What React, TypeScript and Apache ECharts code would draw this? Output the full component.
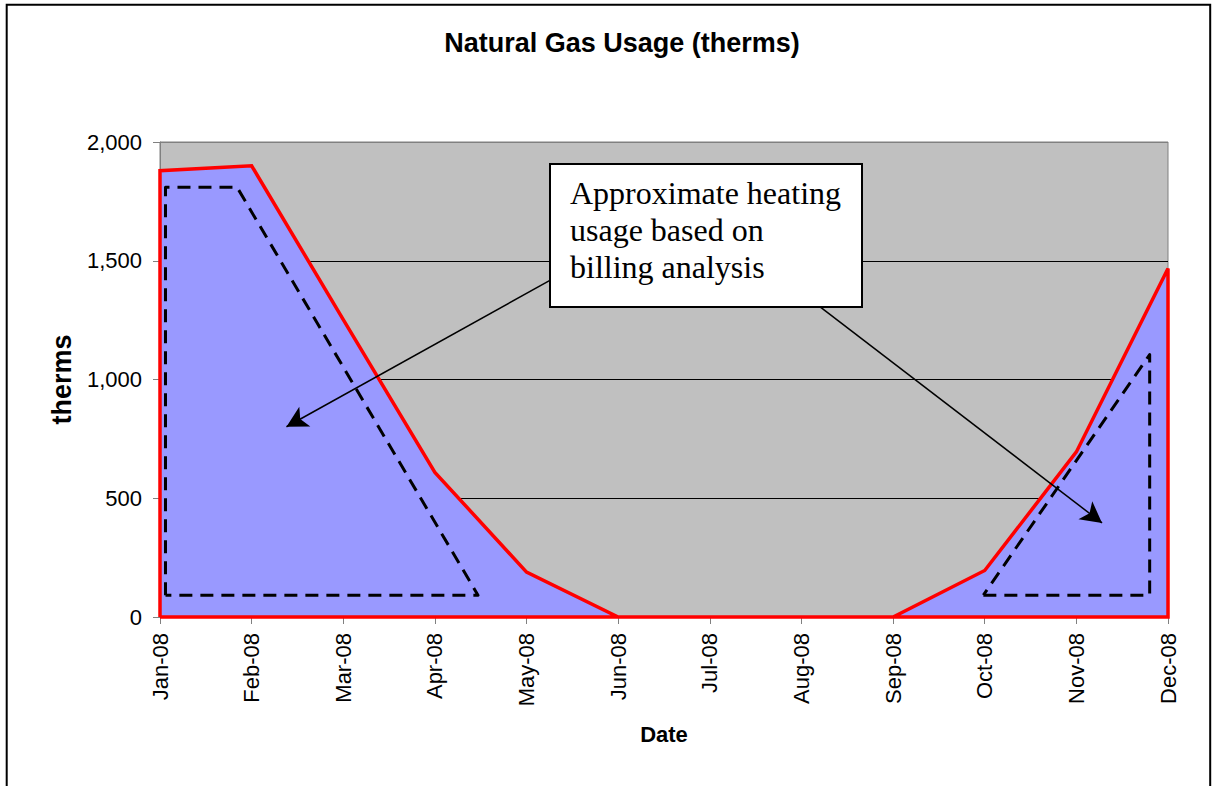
import React, { useEffect, useRef } from 'react';
import * as echarts from 'echarts';

const months = ['Jan-08', 'Feb-08', 'Mar-08', 'Apr-08', 'May-08', 'Jun-08', 'Jul-08', 'Aug-08', 'Sep-08', 'Oct-08', 'Nov-08', 'Dec-08'];
const usage = [1879, 1900, 1252, 609, 189, 0, 0, 0, 0, 196, 695, 1467];

// Dashed "approximate heating usage" outlines, in (month index, therms)
const heatingEarly: number[][] = [[0.06, 92], [0.06, 1810], [0.84, 1810], [3.47, 92], [0.06, 92]];
const heatingLate: number[][] = [[8.985, 92], [10.8, 92], [10.8, 1105], [8.985, 92]];

// Annotation arrows: [from, to] in (month index, therms)
const arrowFrom: number[][] = [[4.25, 1416], [7.2, 1307]];
const arrowTo: number[][] = [[1.38, 801], [10.28, 396]];

const noteText = 'Approximate heating\nusage based on\nbilling analysis';

const SANS = '"Liberation Sans", Arial, sans-serif';
const SERIF = '"Liberation Serif", "Times New Roman", serif';

function fmt(v: number): string {
  const s = String(Math.round(v));
  return s.replace(/\B(?=(\d{3})+(?!\d))/g, ',');
}

export default function App() {
  const ref = useRef<HTMLDivElement>(null);
  useEffect(() => {
    if (!ref.current) return;
    const chart = echarts.init(ref.current, undefined, { renderer: 'svg' });
    const last = months.length - 1;
    const outline: number[][] = [[0, 0], ...usage.map((v, i) => [i, v]), [last, 0], [0, 0]];
    chart.setOption({
      animation: false,
      backgroundColor: '#FFFFFF',
      title: {
        text: 'Natural Gas Usage (therms)',
        left: 617,
        top: 24,
        textAlign: 'center',
        textStyle: { fontFamily: SANS, fontSize: 27, fontWeight: 'bold', color: '#000' },
      },
      grid: {
        left: 160, right: 45, top: 142, bottom: 169,
        show: true, backgroundColor: '#C0C0C0', borderColor: '#808080', borderWidth: 1,
      },
      xAxis: [
        {
          type: 'category',
          data: months,
          boundaryGap: false,
          axisLine: { lineStyle: { color: '#808080', width: 1 } },
          axisTick: { show: true, length: 7, lineStyle: { color: '#808080' } },
          axisLabel: { rotate: 90, interval: 0, fontSize: 22, color: '#000', fontFamily: SANS, margin: 16 },
          splitLine: { show: false },
          name: 'Date',
          nameLocation: 'middle',
          nameGap: 106,
          nameTextStyle: { fontSize: 22, fontWeight: 'bold', color: '#000', fontFamily: SANS },
        },
        { type: 'value', min: 0, max: last, show: false },
      ],
      yAxis: {
        type: 'value',
        min: 0,
        max: 2000,
        interval: 500,
        axisLine: { show: true, lineStyle: { color: '#808080', width: 1 } },
        axisTick: { show: true, length: 7, lineStyle: { color: '#808080' } },
        axisLabel: { fontSize: 22, color: '#000', fontFamily: SANS, margin: 18, formatter: (v: number) => fmt(v) },
        splitLine: { show: true, lineStyle: { color: ['#808080', '#000', '#000', '#000', '#808080'], width: 1 } },
        name: 'therms',
        nameLocation: 'middle',
        nameGap: 85,
        nameTextStyle: { fontSize: 27, fontWeight: 'bold', color: '#000', fontFamily: SANS },
      },
      series: [
        {
          type: 'line',
          data: usage,
          symbol: 'none',
          lineStyle: { width: 0 },
          areaStyle: { color: '#9999FF', opacity: 1 },
          z: 2,
        },
        {
          type: 'line',
          xAxisIndex: 1,
          data: outline,
          symbol: 'none',
          clip: false,
          lineStyle: { color: '#FF0000', width: 3.5, join: 'miter' },
          z: 3,
        },
        {
          type: 'line',
          xAxisIndex: 1,
          data: heatingEarly,
          symbol: 'none',
          lineStyle: { color: '#000', width: 3, type: [13, 8], join: 'round' },
          z: 4,
        },
        {
          type: 'line',
          xAxisIndex: 1,
          data: heatingLate,
          symbol: 'none',
          lineStyle: { color: '#000', width: 3, type: [13, 8], join: 'round' },
          z: 4,
        },
        {
          type: 'line',
          xAxisIndex: 1,
          data: [],
          symbol: 'none',
          z: 5,
          markLine: {
            silent: true,
            symbol: ['none', 'arrow'],
            symbolSize: [17, 21],
            label: { show: false },
            lineStyle: { color: '#000', width: 1.5, type: 'solid' },
            data: arrowFrom.map((a, i) => [{ coord: a }, { coord: arrowTo[i] }]),
          },
        },
      ],
      graphic: [
        {
          type: 'rect',
          z: 100,
          shape: { x: 550, y: 164, width: 312, height: 143 },
          style: { fill: '#FFFFFF', stroke: '#000', lineWidth: 2 },
        },
        {
          type: 'text',
          z: 101,
          x: 570,
          y: 174,
          style: { text: noteText, fontSize: 32, fontFamily: SERIF, fill: '#000', lineHeight: 37 },
        },
        {
          type: 'rect',
          z: 100,
          shape: { x: 6.7, y: 4.7, width: 1203.5, height: 800 },
          style: { fill: 'none', stroke: '#000', lineWidth: 2 },
        },
      ],
    });
    return () => chart.dispose();
  }, []);
  return <div ref={ref} style={{ position: 'absolute', left: 0, top: 0, width: 1213, height: 786 }} />;
}
